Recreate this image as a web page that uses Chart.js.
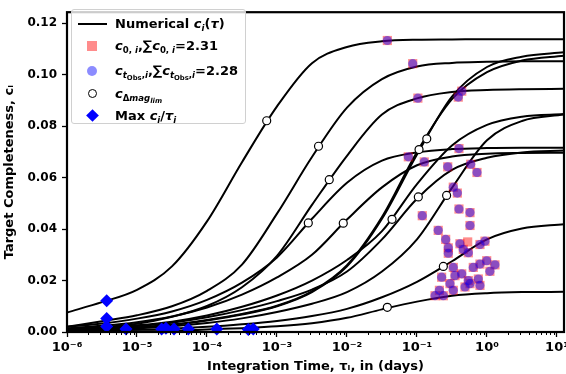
<!DOCTYPE html>
<html>
<head>
<meta charset="utf-8">
<script src="https://cdn.jsdelivr.net/npm/chart.js"></script>
<style>
body { margin: 0; background: #fff; overflow: hidden; width: 566px; height: 374px; position: relative; }
#wrap { position: absolute; left: 0; top: 0; width: 600px; height: 374px; }
#leg { position: absolute; left: 71px; top: 9px; width: 175px; height: 115px; background: rgba(255,255,255,0.8);
  border: 1px solid #d0d0d0; border-radius: 3px; box-sizing: border-box;
  font-family: "DejaVu Sans", sans-serif; font-weight: bold; font-size: 13px; color: #000; }
.row { position: absolute; left: 43px; height: 20px; line-height: 20px; white-space: nowrap; }
.row sub { font-size: 66%; vertical-align: -0.3em; line-height: 0; }
.row sub sub { font-size: 80%; }
.mk { position: absolute; box-sizing: border-box; }
</style>
</head>
<body>
<div id="wrap"><canvas id="grafica" width="600" height="374"></canvas></div>
<div id="leg">
  <div class="mk" style="left:6px;top:13px;width:29px;height:2px;background:#000"></div>
  <div class="row" style="top:4px">Numerical <i>c<sub>i</sub></i>(<i>τ</i>)</div>
  <div class="mk" style="left:15px;top:31px;width:10px;height:10px;background:rgba(255,0,0,0.45)"></div>
  <div class="row" style="top:26px"><i>c</i><sub>0, <i>i</i></sub>,∑<i>c</i><sub>0, <i>i</i></sub>=2.31</div>
  <div class="mk" style="left:15px;top:56px;width:10px;height:10px;border-radius:50%;background:rgba(0,0,255,0.45)"></div>
  <div class="row" style="top:51px"><i>c</i><sub><i>t</i><sub>Obs</sub>,<i>i</i></sub>,∑<i>c</i><sub><i>t</i><sub>Obs</sub>,<i>i</i></sub>=2.28</div>
  <div class="mk" style="left:16px;top:79px;width:9px;height:9px;border-radius:50%;background:#fff;border:1.3px solid #000"></div>
  <div class="row" style="top:74px"><i>c</i><sub>Δ<i>mag</i><sub><i>lim</i></sub></sub></div>
  <div class="mk" style="left:16px;top:101px;width:9px;height:9px;background:#00f;transform:rotate(45deg)"></div>
  <div class="row" style="top:96px">Max <i>c<sub>i</sub></i>/<i>τ<sub>i</sub></i></div>
</div>
<script>
// Rejilla de tiempos de integracion (dias)
const TAU = [1e-6, 3.16e-6, 1e-5, 3.16e-5, 1e-4, 3.16e-4, 1e-3, 3.16e-3, 1e-2, 3.16e-2, 0.1, 0.316, 1, 3.16, 12.6];

// Curvas numericas c_i(tau)
const curvaA = [0.0076, 0.0116, 0.0164, 0.0255, 0.0430, 0.0660, 0.0877, 0.1045, 0.1108, 0.1130, 0.1136, 0.1137, 0.1138, 0.1138, 0.1138];
const curvaB = [0.0020, 0.0042, 0.0065, 0.0100, 0.0160, 0.0262, 0.0460, 0.0680, 0.0872, 0.0983, 0.1032, 0.1046, 0.1050, 0.1052, 0.1052];
const curvaC = [0.0011, 0.0019, 0.0032, 0.0059, 0.0101, 0.0174, 0.0296, 0.0494, 0.0685, 0.0845, 0.0908, 0.0933, 0.0941, 0.0944, 0.0945];
const curvaK1 = [0.0007, 0.0011, 0.0017, 0.0027, 0.0045, 0.0068, 0.0100, 0.0155, 0.0255, 0.0440, 0.0690, 0.0915, 0.1030, 0.1070, 0.1087];
const curvaK2 = [0.0008, 0.0012, 0.0018, 0.0029, 0.0047, 0.0070, 0.0102, 0.0158, 0.0260, 0.0447, 0.0700, 0.0905, 0.1010, 0.1055, 0.1074];
const curvaF = [0.0020, 0.0033, 0.0052, 0.0080, 0.0125, 0.0192, 0.0290, 0.0440, 0.0580, 0.0666, 0.0698, 0.0711, 0.0715, 0.0716, 0.0716];
const curvaG = [0.0015, 0.0024, 0.0038, 0.0060, 0.0095, 0.0145, 0.0212, 0.0300, 0.0437, 0.0562, 0.0648, 0.0682, 0.0693, 0.0696, 0.0697];
const curvaH = [0.0011, 0.0017, 0.0026, 0.0040, 0.0064, 0.0098, 0.0142, 0.0200, 0.0280, 0.0392, 0.0575, 0.0725, 0.0805, 0.0837, 0.0847];
const curvaI = [0.0010, 0.0015, 0.0023, 0.0036, 0.0057, 0.0085, 0.0120, 0.0165, 0.0235, 0.0360, 0.0518, 0.0630, 0.0677, 0.0698, 0.0705];
const curvaJ = [0.0006, 0.0009, 0.0014, 0.0022, 0.0035, 0.0053, 0.0078, 0.0110, 0.0155, 0.0235, 0.0360, 0.0560, 0.0745, 0.0820, 0.0845];
const curvaL = [0.0004, 0.0006, 0.0009, 0.0013, 0.0020, 0.0030, 0.0043, 0.0062, 0.0090, 0.0135, 0.0195, 0.0275, 0.0360, 0.0402, 0.0419];
const curvaM = [0.0001, 0.0002, 0.0003, 0.0004, 0.0010, 0.0015, 0.0022, 0.0034, 0.0055, 0.0088, 0.0118, 0.0141, 0.0151, 0.0155, 0.0156];
const curvas = [curvaA, curvaB, curvaC, curvaK1, curvaK2, curvaF, curvaG, curvaH, curvaI, curvaJ, curvaL, curvaM];

// c_{0,i} (cuadrados)
const c0Tau = [0.0377, 0.0869, 0.103, 0.436, 0.389, 0.0752, 0.127, 0.398, 0.275, 0.585, 0.72, 0.330, 0.377, 0.398, 0.572, 0.572,
  0.119, 0.201, 0.257, 0.280, 0.280, 0.411, 0.530, 0.458, 0.541, 0.794, 0.936, 0.225, 0.330, 0.349, 0.436, 0.637, 0.794, 0.991,
  1.30, 1.10, 0.541, 0.572, 0.752, 0.794, 0.485, 0.330, 0.209, 0.181, 0.238, 0.296];
const c0Val = [0.1133, 0.1043, 0.0909, 0.0936, 0.0913, 0.0681, 0.0661, 0.0713, 0.0642, 0.0652, 0.0620, 0.0563, 0.0540, 0.0478, 0.0464, 0.0414,
  0.0452, 0.0395, 0.0360, 0.0327, 0.0306, 0.0343, 0.0350, 0.0321, 0.0308, 0.0340, 0.0353, 0.0213, 0.0251, 0.0219, 0.0226, 0.0251, 0.0264, 0.0277,
  0.0261, 0.0236, 0.0200, 0.0188, 0.0206, 0.0181, 0.0175, 0.0162, 0.0162, 0.0141, 0.0141, 0.0188];

// c_{tObs,i} (circulos azules)
const obsTau = c0Tau.filter((_, i) => i !== 22);
const obsVal = c0Val.filter((_, i) => i !== 22);

// c_{Delta mag_lim} (circulos blancos)
const dmagTau = [7.13e-4, 3.92e-3, 5.58e-3, 2.80e-3, 8.85e-3, 0.0440, 0.1045, 0.265, 0.107, 0.138, 0.238, 0.0377];
const dmagVal = [0.0821, 0.0722, 0.0592, 0.0424, 0.0423, 0.0438, 0.0525, 0.0531, 0.0709, 0.0751, 0.0255, 0.0096];

// Max c_i/tau_i (rombos)
const maxTau = [3.69e-6, 3.69e-6, 3.69e-6, 6.97e-6, 2.25e-5, 2.59e-5, 3.38e-5, 5.41e-5, 1.38e-4, 3.89e-4, 4.58e-4];
const maxVal = [0.0121, 0.0052, 0.0021, 0.0012, 0.0012, 0.0015, 0.0012, 0.0012, 0.0012, 0.0010, 0.0012];

const yTicks = [0, 0.02, 0.04, 0.06, 0.08, 0.10, 0.12];
const X_MIN = 1e-6, X_MAX = 12.6, Y_MAX = 0.1243;

const pares = (xs, ys) => xs.map((x, i) => ({x: x, y: ys[i]}));
const SUP = {'-': '⁻', '0': '⁰', '1': '¹', '2': '²', '3': '³', '4': '⁴', '5': '⁵', '6': '⁶', '7': '⁷', '8': '⁸', '9': '⁹'};
const fuente = {family: 'DejaVu Sans', weight: 'bold', size: 12};

const datasets = curvas.map(c => ({
    type: 'line', data: pares(TAU, c), borderColor: '#000', borderWidth: 2,
    pointRadius: 0, fill: false, cubicInterpolationMode: 'monotone', order: 10
}));
datasets.push({type: 'scatter', data: pares(c0Tau, c0Val), pointStyle: 'rect', pointRadius: 6.5,
    backgroundColor: 'rgba(255,0,0,0.45)', borderWidth: 0, order: 4, clip: false});
datasets.push({type: 'scatter', data: pares(obsTau, obsVal), pointStyle: 'circle', pointRadius: 4.6,
    backgroundColor: 'rgba(0,0,255,0.45)', borderWidth: 0, order: 3, clip: false});
datasets.push({type: 'scatter', data: pares(dmagTau, dmagVal), pointStyle: 'circle', pointRadius: 4,
    backgroundColor: '#fff', borderColor: '#000', borderWidth: 1.2, order: 2, clip: false});
datasets.push({type: 'scatter', data: pares(maxTau, maxVal), pointStyle: 'rectRot', pointRadius: 6.5,
    backgroundColor: '#0000ff', borderWidth: 0, order: 1, clip: false});

// Marco y marcas menores del eje logaritmico
const marco = {
    id: 'marco',
    afterDraw(chart) {
        const {ctx, chartArea: a} = chart;
        const sx = chart.scales.x;
        ctx.save();
        ctx.strokeStyle = '#000';
        ctx.lineWidth = 1;
        sx.ticks.forEach(t => {
            if (t.major) return;
            const px = Math.round(sx.getPixelForValue(t.value)) + 0.5;
            ctx.beginPath(); ctx.moveTo(px, a.bottom); ctx.lineTo(px, a.bottom + 3); ctx.stroke();
        });
        ctx.lineWidth = 2.2;
        ctx.strokeRect(a.left, a.top, a.right - a.left, a.bottom - a.top);
        ctx.restore();
    }
};

new Chart(document.getElementById('grafica').getContext('2d'), {
    type: 'line',
    data: {datasets: datasets},
    options: {
        responsive: false, animation: false,
        layout: {padding: {left: 0, top: 6, right: 36, bottom: 0}},
        plugins: {legend: {display: false}, tooltip: {enabled: false}},
        scales: {
            x: {
                type: 'logarithmic', min: X_MIN, max: X_MAX,
                afterBuildTicks: s => {
                    const t = [];
                    for (let e = -6; e <= 1; e++) {
                        for (let k = 1; k < 10; k++) {
                            const v = k * Math.pow(10, e);
                            if (v <= X_MAX) t.push({value: v, major: k === 1});
                        }
                    }
                    s.ticks = t;
                },
                afterFit: s => { s.height = 42; },
                ticks: {
                    autoSkip: false, maxRotation: 0, minRotation: 0, padding: 3, color: '#000', font: {...fuente, size: 13},
                    callback: function (v, i, ticks) {
                        if (!ticks[i].major) return '';
                        const e = String(Math.round(Math.log10(v)));
                        return '10' + e.split('').map(ch => SUP[ch]).join('');
                    }
                },
                grid: {drawOnChartArea: false, drawTicks: true, tickLength: 5, tickWidth: 1.3,
                    tickColor: c => (c.tick && c.tick.major) ? '#000' : 'rgba(0,0,0,0)'},
                border: {display: false},
                title: {display: true, text: 'Integration Time, τᵢ, in (days)', color: '#000',
                    font: {...fuente, size: 13}, padding: {top: 0, bottom: 0}}
            },
            y: {
                min: 0, max: Y_MAX,
                afterBuildTicks: s => { s.ticks = yTicks.map(v => ({value: v})); },
                afterFit: s => { s.width = 67; },
                ticks: {padding: 5, color: '#000', font: fuente, callback: v => v.toFixed(2)},
                grid: {drawOnChartArea: false, tickLength: 5, tickWidth: 1.3, tickColor: '#000'},
                border: {display: false},
                title: {display: true, text: 'Target Completeness, cᵢ', color: '#000',
                    font: {...fuente, size: 13}, padding: {top: 2, bottom: 0}}
            }
        }
    },
    plugins: [marco]
});
</script>
</body>
</html>
